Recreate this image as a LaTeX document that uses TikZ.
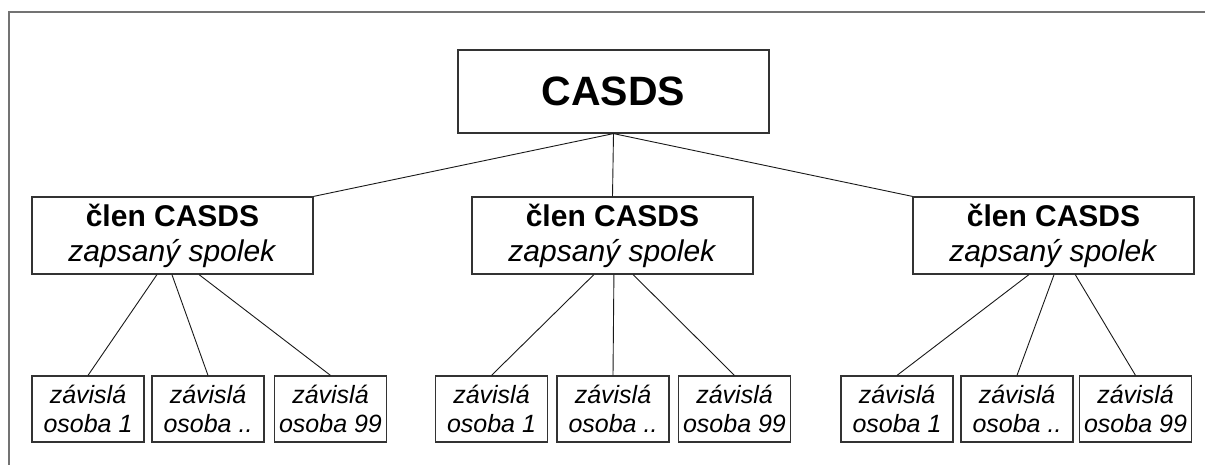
\documentclass[tikz,border=0pt]{standalone}
\usepackage{fontspec}
\setmainfont{Liberation Sans}
\usetikzlibrary{calc}
\begin{document}
\begin{tikzpicture}[x=1pt,y=-1pt,
  box/.style={draw=black!80, line width=1.2pt, fill=white, inner sep=0pt, align=center},
  topbox/.style={box, minimum width=311pt, minimum height=83pt, font=\fontsize{41}{48}\selectfont\bfseries},
  midbox/.style={box, minimum width=281pt, minimum height=77pt, font=\fontsize{30}{35}\selectfont},
  leafbox/.style={box, minimum width=112pt, minimum height=66pt, font=\fontsize{25}{29}\selectfont\itshape},
  link/.style={draw=black!90, line width=0.9pt},
  frameline/.style={draw=black!55, line width=2pt}]
\useasboundingbox (0,0) rectangle (1205,465);
\draw[frameline] (8.5,466) -- (8.5,11.7) -- (1206,11.7);

\node[topbox] (root) at (613.5,91.5) {CASDS};

\node[midbox] (m1) at (172.5,235.5) {\textbf{člen CASDS}\\\textit{zapsaný spolek}};
\node[midbox] (m2) at (612.5,235.5) {\textbf{člen CASDS}\\\textit{zapsaný spolek}};
\node[midbox] (m3) at (1053.5,235.5) {\textbf{člen CASDS}\\\textit{zapsaný spolek}};

\node[leafbox] (a1) at (88,409) {závislá\\osoba 1};
\node[leafbox] (a2) at (208,409) {závislá\\osoba ..};
\node[leafbox] (a3) at (330.5,409) {závislá\\osoba 99};

\node[leafbox] (b1) at (491.5,409) {závislá\\osoba 1};
\node[leafbox] (b2) at (613,409) {závislá\\osoba ..};
\node[leafbox] (b3) at (734.5,409) {závislá\\osoba 99};

\node[leafbox] (c1) at (897,409) {závislá\\osoba 1};
\node[leafbox] (c2) at (1017,409) {závislá\\osoba ..};
\node[leafbox] (c3) at (1135.5,409) {závislá\\osoba 99};

\draw[link] (root.south) -- (m1.north east);
\draw[link] (root.south) -- (m2.north);
\draw[link] (root.south) -- (m3.north west);

\draw[link] ($(m1.south west)!0.445!(m1.south east)$) -- (a1.north);
\draw[link] ($(m1.south west)!0.498!(m1.south east)$) -- (a2.north);
\draw[link] ($(m1.south west)!0.594!(m1.south east)$) -- (a3.north);

\draw[link] ($(m2.south west)!0.434!(m2.south east)$) -- (b1.north);
\draw[link] ($(m2.south west)!0.505!(m2.south east)$) -- (b2.north);
\draw[link] ($(m2.south west)!0.573!(m2.south east)$) -- (b3.north);

\draw[link] ($(m3.south west)!0.413!(m3.south east)$) -- (c1.north);
\draw[link] ($(m3.south west)!0.502!(m3.south east)$) -- (c2.north);
\draw[link] ($(m3.south west)!0.577!(m3.south east)$) -- (c3.north);
\end{tikzpicture}
\end{document}
